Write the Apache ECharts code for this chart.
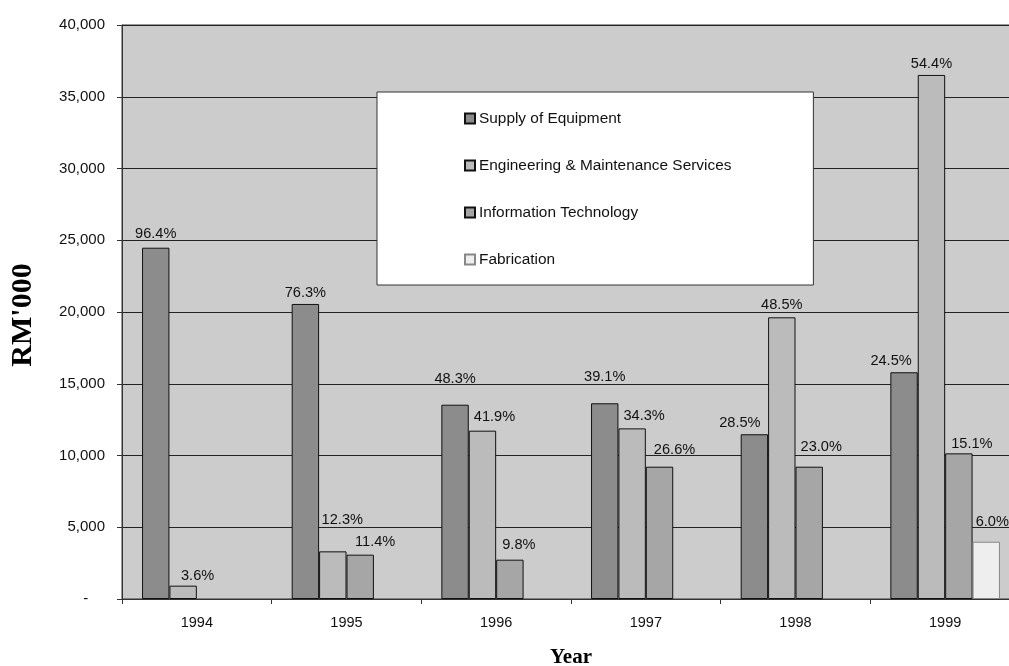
<!DOCTYPE html>
<html>
<head>
<meta charset="utf-8">
<script src="https://cdn.jsdelivr.net/npm/echarts@6/dist/echarts.min.js"></script>
<style>
html,body{margin:0;padding:0;background:#fff;}
#chart{width:1009px;height:666px;}
</style>
</head>
<body>
<div id="chart"></div>
<script>
// ---- data ----
const years = ['1994', '1995', '1996', '1997', '1998', '1999'];
const seriesNames = ['Supply of Equipment', 'Engineering & Maintenance Services', 'Information Technology', 'Fabrication'];
const supplyOfEquipment = [24480, 20560, 13540, 13640, 11480, 15800];
const engineeringMaintenance = [930, 3320, 11730, 11890, 19630, 36520];
const informationTechnology = [null, 3090, 2740, 9220, 9220, 10150];
const fabrication = [null, null, null, null, null, 3990];
const supplyPct = ['96.4%', '76.3%', '48.3%', '39.1%', '28.5%', '24.5%'];
const engineeringPct = ['3.6%', '12.3%', '41.9%', '34.3%', '48.5%', '54.4%'];
const itPct = ['', '11.4%', '9.8%', '26.6%', '23.0%', '15.1%'];
const fabricationPct = ['', '', '', '', '', '6.0%'];
const yTicks = [0, 5000, 10000, 15000, 20000, 25000, 30000, 35000, 40000];

// ---- label nudges (styling only) ----
const supplyNudge = [[0,-1.5],[0,1.5],[0,-13.5],[0,-13.5],[-14.5,1],[-13,1]];
const engNudge = [[14.5,2.5],[9.5,-18.5],[12,-1.5],[12,0],[0,0.5],[0,1.5]];
const itNudge = [[0,0],[15,0],[9,-2],[15,-4.5],[12,-7],[13,3.5]];
const fabNudge = [[0,0],[0,0],[0,0],[0,0],[0,0],[6,-7.5]];

const FONT = "'Liberation Sans', Arial, sans-serif";

function buildData(values, nudges) {
  return values.map((v, i) => ({
    value: v == null ? '-' : v,
    label: { offset: nudges[i] }
  }));
}

function makeSeries(name, values, pcts, nudges, color, border) {
  return {
    name: name,
    type: 'bar',
    barWidth: 27.4,
    barGap: '0%',
    data: buildData(values, nudges),
    itemStyle: { color: color, borderColor: border, borderWidth: 1 },
    label: {
      show: true,
      position: 'top',
      distance: 5,
      fontFamily: FONT,
      fontSize: 14.6,
      lineHeight: 15,
      color: '#111',
      formatter: p => pcts[p.dataIndex]
    },
    emphasis: { disabled: true },
    animation: false
  };
}

const chart = echarts.init(document.getElementById('chart'), null, { renderer: 'canvas' });
chart.setOption({
  backgroundColor: '#ffffff',
  animation: false,
  grid: {
    left: 122, top: 25, width: 898, height: 574,
    show: true, backgroundColor: '#cccccc', borderColor: '#333', borderWidth: 1,
    containLabel: false,
    outerBoundsMode: 'none'
  },
  legend: {
    orient: 'vertical',
    left: 377, top: 92,
    padding: [18, 82, 17, 87],
    backgroundColor: '#ffffff',
    borderColor: '#333',
    borderWidth: 1,
    itemWidth: 10, itemHeight: 10,
    itemGap: 30,
    icon: 'rect',
    textStyle: { fontFamily: FONT, fontSize: 15.4, lineHeight: 17, color: '#111', padding: [0, 0, 0, -1] },
    data: seriesNames
  },
  xAxis: {
    type: 'category',
    data: years,
    axisLine: { lineStyle: { color: '#333', width: 1 } },
    axisTick: { show: true, length: 5, lineStyle: { color: '#333' } },
    axisLabel: { fontFamily: FONT, fontSize: 14.5, color: '#111', margin: 16 },
    splitLine: { show: false }
  },
  yAxis: {
    type: 'value',
    min: 0, max: 40000, interval: 5000,
    axisLine: { show: true, lineStyle: { color: '#333', width: 1 } },
    axisTick: { show: true, length: 5, lineStyle: { color: '#333' } },
    axisLabel: {
      fontFamily: FONT, fontSize: 15, color: '#111', margin: 17,
      formatter: v => (v === 0 ? '-    ' : (yTicks.indexOf(v) >= 0 ? v.toLocaleString('en-US') : ''))
    },
    splitLine: { show: true, lineStyle: { color: '#222', width: 1 } }
  },
  graphic: [
    {
      type: 'text', x: 23, y: 315, rotation: Math.PI / 2,
      style: { text: "RM'000", fontFamily: "'Liberation Serif', 'Times New Roman', serif", fontWeight: 'bold', fontSize: 30, fill: '#000', align: 'center', verticalAlign: 'middle' }
    },
    {
      type: 'text', x: 571, y: 657.5,
      style: { text: 'Year', fontFamily: "'Liberation Serif', 'Times New Roman', serif", fontWeight: 'bold', fontSize: 21, fill: '#000', align: 'center', verticalAlign: 'middle' }
    }
  ],
  series: [
    makeSeries(seriesNames[0], supplyOfEquipment, supplyPct, supplyNudge, '#8c8c8c', '#111'),
    makeSeries(seriesNames[1], engineeringMaintenance, engineeringPct, engNudge, '#bbbbbb', '#111'),
    makeSeries(seriesNames[2], informationTechnology, itPct, itNudge, '#a6a6a6', '#111'),
    makeSeries(seriesNames[3], fabrication, fabricationPct, fabNudge, '#eeeeee', '#888')
  ]
});
</script>
</body>
</html>
